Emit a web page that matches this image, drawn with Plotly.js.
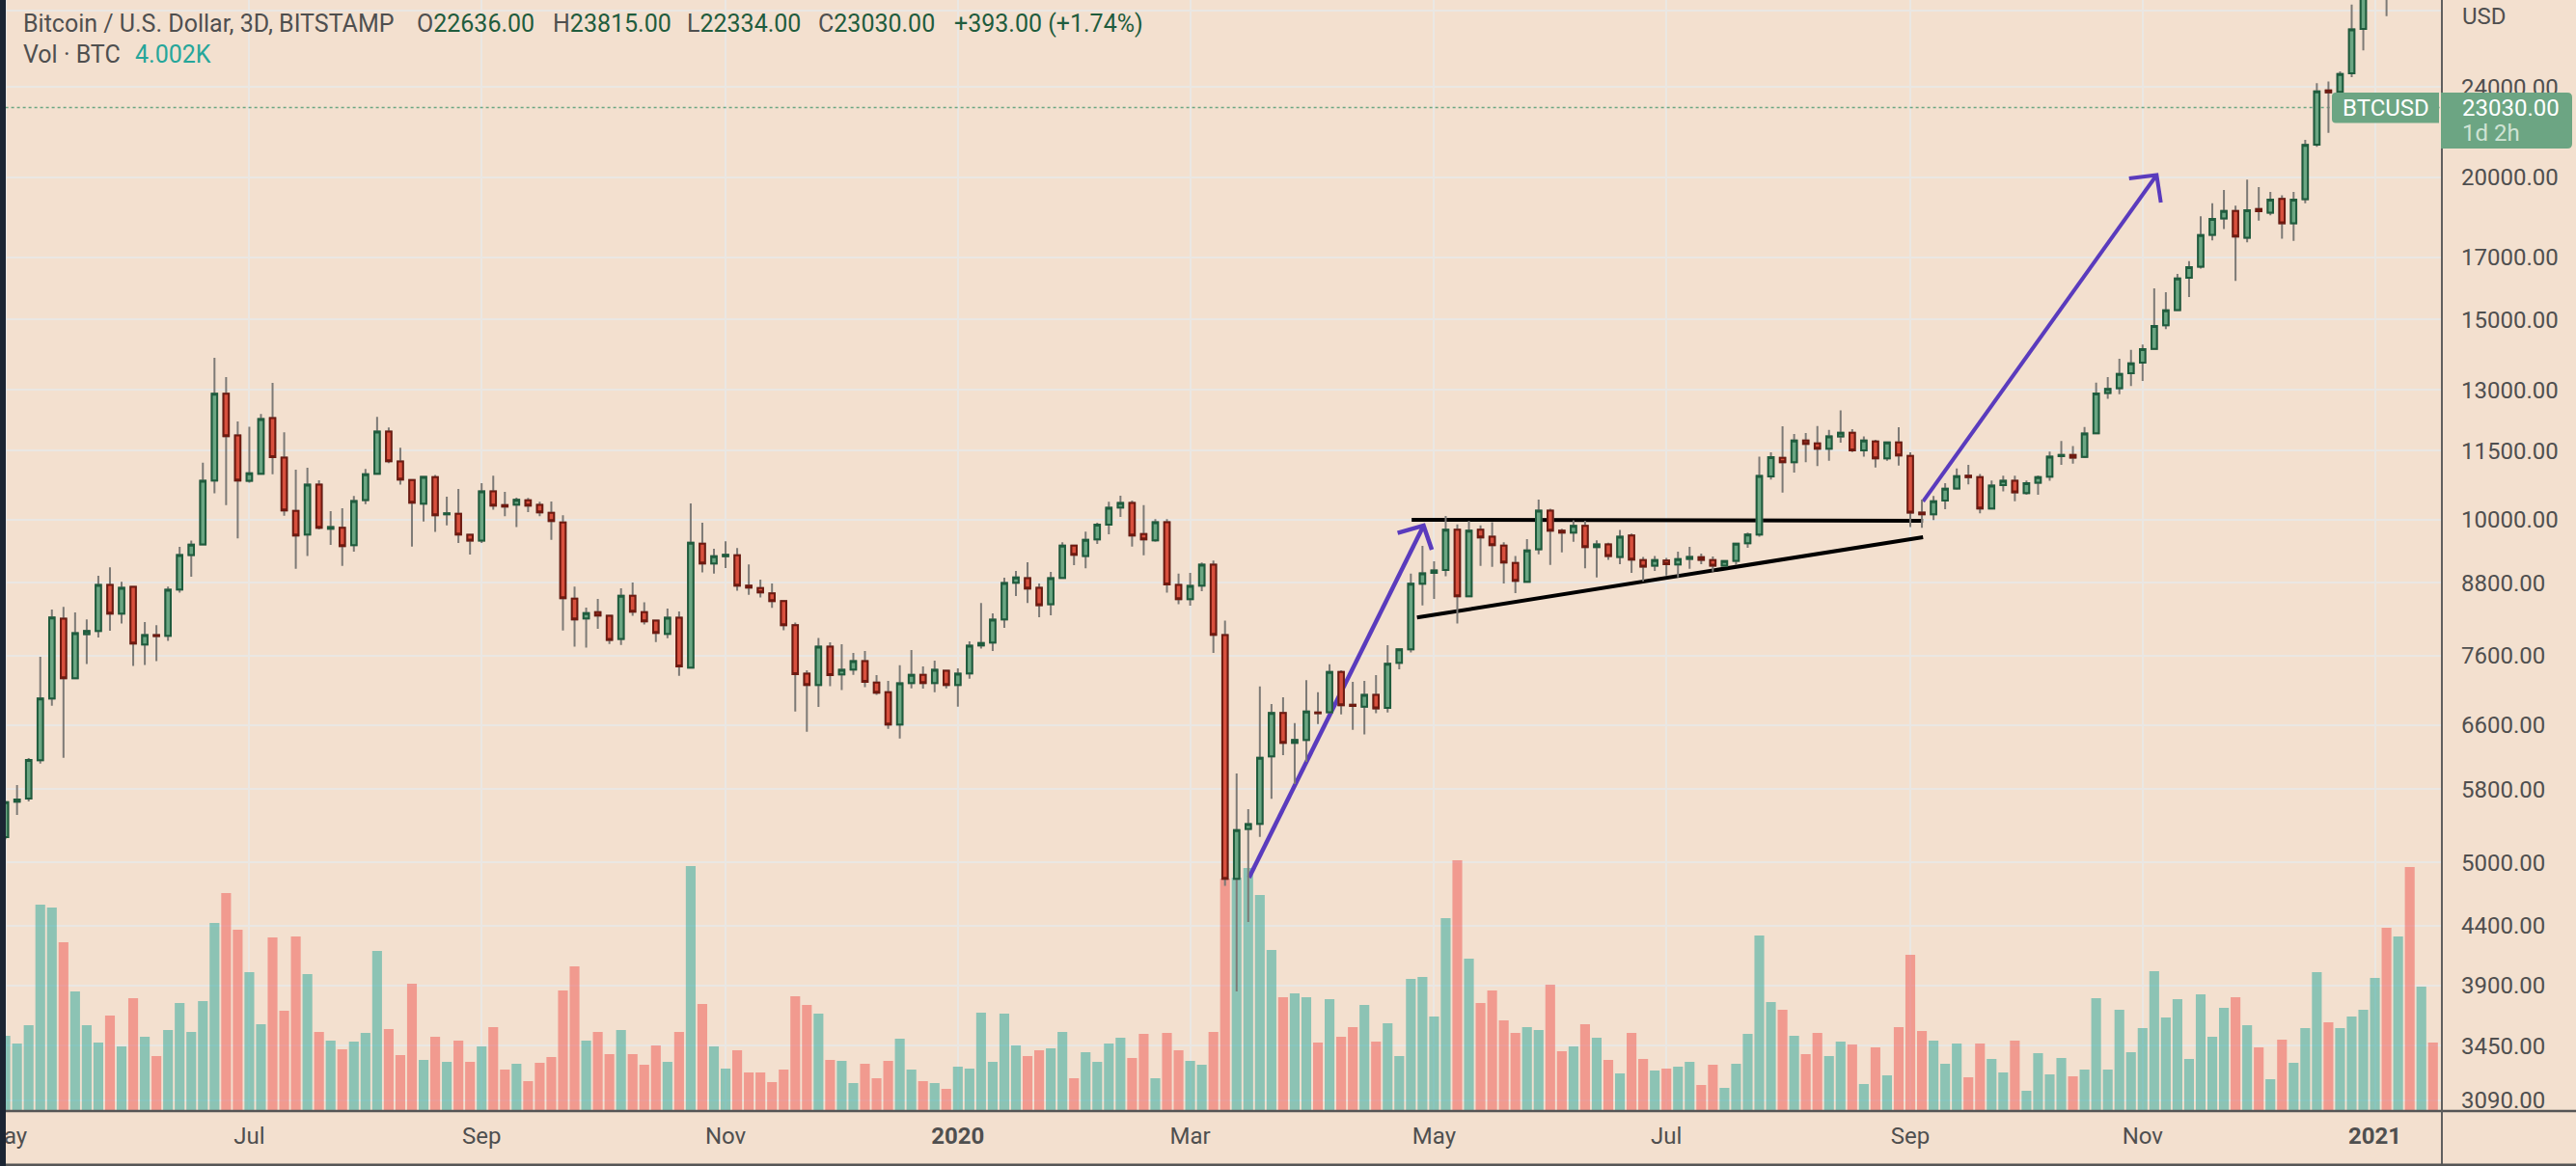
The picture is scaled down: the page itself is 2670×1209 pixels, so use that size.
<!DOCTYPE html>
<html><head><meta charset="utf-8">
<script src="https://cdn.plot.ly/plotly-3.0.1.min.js"></script>
<style>html,body{margin:0;padding:0;background:#f3e0cf;overflow:hidden}#chart{width:2670px;height:1209px}</style>
</head><body><div id="chart"></div>
<script>
const opens=[5263,5655,5690,6148,6967,8186,7257,7935,7985,8764,8271,8730,7770,7919,7909,8685,9310,9516,10826,12906,
11858,10819,10974,12282,11338,10183,9707,10736,9820,9840,9499,10405,10974,11951,11250,10840,10331,10900,10111,10124,
9700,9590,10590,10300,10310,10404,10306,10144,9948,8527,8191,8297,8234,7860,8577,8297,8154,7940,8202,7416,
9529,9153,9290,9309,8752,8712,8616,8484,8080,7324,7160,7735,7314,7386,7512,7196,7057,6608,7187,7309,
7187,7367,7160,7329,7755,7800,8175,8803,8884,8714,8431,8890,9493,9296,9612,9900,10251,10345,9718,9592,
9950,8764,8517,8752,9130,7919,4836,5352,5406,6196,6764,6367,6405,6771,6776,7352,6880,6853,7016,6835,
7488,7695,8787,8984,9033,9800,8567,9800,9662,9493,9165,8820,9424,10188,9782,9744,9876,9462,9512,9277,
9687,9216,9116,9210,9135,9240,9271,9216,9116,9206,9536,9706,10915,11336,11235,11740,11673,11545,11835,11927,
11510,11717,11325,11695,11378,10147,10112,10398,10656,10933,10902,10232,10729,10820,10556,10782,10910,11371,11402,11355,
11913,12926,13051,13449,13741,14132,14824,15285,16320,16686,17800,18394,18680,17690,18748,18615,19140,18218,19127,21360,
23840,23772,24680,26998,29400,32900,31000,36800,35500,38000];
const highs=[5660,5847,6175,7581,8341,8384,8292,8175,8930,9083,8821,8730,8133,8079,8736,9468,9590,11225,13880,13350,
12204,12070,12388,13191,11935,11069,11111,10832,10177,10237,10493,11083,12314,12054,11568,10840,10928,10950,10479,10643,
9700,10770,10935,10583,10458,10451,10371,10378,10091,8736,8372,8521,8234,8707,8810,8462,8154,8356,8308,10336,
9943,9431,9574,9443,9135,8861,8792,8484,8122,7376,7872,7805,7775,7640,7670,7304,7219,7451,7683,7434,
7522,7367,7405,7820,8452,8276,8895,9016,9177,8792,9000,9555,9506,9763,9943,10370,10500,10398,10300,10015,
10015,8968,8984,9171,9210,8154,5985,5570,7138,6889,6983,6629,7228,7057,7466,7376,7205,7219,7304,7760,
7695,8968,9487,9196,10078,9905,9980,9886,9950,9555,9296,9618,10418,10228,9820,9992,9980,9592,9548,9795,
9725,9277,9296,9258,9375,9468,9340,9284,9210,9530,9744,11360,11464,12084,11897,11920,12091,11994,12480,12013,
11835,11757,11700,12060,11465,10420,10493,10768,11095,11173,10972,10827,10933,10933,10827,10940,11482,11730,11608,12064,
13200,13345,13848,14100,14257,15970,15850,16445,16875,18475,18970,19490,18876,19905,19600,19410,19275,19410,21565,24190,
24275,24770,28350,29900,33300,34800,37500,41950,41300,38500];
const lows=[5240,5504,5657,6108,6866,6180,7257,7468,7883,7990,8106,7440,7454,7512,7826,8628,8912,9516,10549,10300,
9630,10777,10974,10967,10085,9059,9292,9808,9505,9112,9377,10324,10974,11213,10736,9474,9966,9757,9890,9541,
9322,9541,10205,10071,9852,10157,10071,9603,7995,7735,7720,8022,7780,7765,8234,8090,7810,7870,7294,7401,
8989,8970,9072,8663,8594,8545,8367,7996,6785,6514,6849,7141,7085,7309,7127,7016,6552,6426,7112,7108,
7057,7112,6853,7251,7705,7670,8037,8571,8452,8212,8245,8890,9123,9066,9523,9712,10059,9474,9309,9567,
8628,8431,8404,8657,7639,4770,3852,4432,5265,5688,6212,5860,6128,6616,6776,6747,6540,6477,6762,6771,
7390,7645,8411,8521,8920,8106,8550,9110,9092,8792,8622,8820,9328,9128,9362,9567,9066,8900,9220,9141,
8984,8832,9016,8936,8900,9055,9141,9005,9098,9122,9449,9662,10846,10568,11003,11235,11147,11270,11690,11470,
11360,11118,11270,11158,9855,9841,9994,10218,10626,10745,10132,10218,10594,10384,10520,10520,10820,11173,11205,11331,
11913,12772,12893,13110,13240,14122,14710,15285,15692,16620,17595,18005,16216,17530,18320,18510,17655,17582,18970,21270,
21880,23710,24490,25840,28900,27700,30400,30000,30100,33000];
const closes=[5649,5680,6152,6967,8207,7257,7950,7985,8764,8271,8713,7785,7919,7904,8679,9310,9510,10819,12906,11843,
10826,10988,12258,11354,10190,9688,10736,9840,9852,9480,10385,10967,11951,11258,10846,10351,10907,10091,10131,9707,
9590,10590,10292,10273,10411,10292,10150,9974,8533,8175,8281,8239,7845,8577,8303,8143,7955,8202,7434,9548,
9153,9290,9315,8752,8718,8633,8484,8080,7319,7160,7735,7304,7381,7512,7205,7048,6608,7183,7309,7187,
7381,7160,7324,7750,7795,8170,8798,8901,8703,8415,8884,9493,9315,9605,9900,10244,10345,9687,9612,9950,
8775,8517,8747,9130,7924,4836,5338,5402,6180,6764,6367,6405,6785,6762,7352,6871,6862,7016,6830,7473,
7695,8787,8973,9027,9800,8567,9782,9650,9499,9171,8838,9399,10188,9782,9744,9876,9462,9512,9296,9662,
9228,9098,9216,9141,9234,9277,9222,9116,9200,9530,9706,10926,11352,11235,11740,11660,11545,11835,11927,11510,
11740,11325,11695,11390,10147,10112,10384,10648,10925,10902,10232,10714,10820,10570,10768,10902,11365,11402,11339,11905,
12910,13033,13430,13722,14122,14803,15274,16297,16675,17790,18380,18680,17740,18708,18667,19115,18218,19115,21345,23790,
23740,24640,26970,29400,32900,31000,36800,35500,38000,35000];
const volumes=[4399,3948,5020,12070,11900,9870,6994,5020,4004,5584,3779,6599,4343,3215,4738,6317,4625,6430,10998,12746,
10603,8122,5076,10152,5866,10208,8009,4625,4117,3610,4061,4568,9362,4794,3271,7445,2989,4343,2876,4117,
2876,3779,4907,2425,2764,1748,2820,3158,7050,8460,4117,4625,3328,4738,3328,2707,3835,2876,4625,14326,
6260,3779,2482,3553,2256,2256,1692,2425,6712,6204,5696,2989,2933,1636,2764,1918,2933,4230,2425,1748,
1636,1297,2594,2482,5753,2876,5696,3835,3215,3553,3666,4625,1918,3440,2876,3948,4286,3102,4512,1918,
4568,3553,2933,2707,4625,13592,13649,14213,12634,9419,6655,6881,6655,4004,6542,4343,4907,6204,4061,5132,
3215,7727,7840,5527,11280,14664,8911,6317,7050,5302,4568,4907,4738,7388,3497,3779,5076,4286,2989,2200,
4568,3046,2369,2482,2594,2876,1523,2707,1354,2764,4512,10265,6373,5922,4399,3328,4568,3215,4061,3892,
1579,3722,2087,4907,9137,4681,4117,2764,3948,1974,3948,3046,2256,4117,1184,3384,2143,3102,2030,2425,
6599,2425,5922,3440,4850,8178,5471,6542,3046,6824,4343,6035,6655,5020,3722,1861,4174,2820,4850,8122,
5189,4850,5527,5922,7783,10716,10208,14269,7276,4004];

const firstBar='2019-04-30';
const barDates=opens.map((_,i)=>new Date(Date.parse(firstBar+'T00:00:00Z')+i*3*864e5).toISOString().slice(0,10));
const tickBars=[0,21,41,62,82,102,123,143,164,184,204];
const tickLabels=['May','Jul','Sep','Nov','<b>2020</b>','Mar','May','Jul','Sep','Nov','<b>2021</b>'];
const priceTicks=[28000,24000,20000,17000,15000,13000,11500,10000,8800,7600,6600,5800,5000,4400,3900,3450,3090];
const priceLabels=['','24000.00','20000.00','17000.00','15000.00','13000.00','11500.00','10000.00','8800.00','7600.00','6600.00','5800.00','5000.00','4400.00','3900.00','3450.00','3090.00'];
const lastPrice=23030;

const arrowAX=['2020-03-16 05:00','2020-04-30 07:00'], arrowAY=[4848,9884];
const headAX=['2020-04-23 14:00','2020-04-30 07:00','2020-05-02 10:00'], headAY=[9736,9884,9413];
const arrowBX=['2020-09-06 07:00','2020-11-05 15:00'], arrowBY=[10378,20085];
const headBX=['2020-10-29 12:00','2020-11-05 15:00','2020-11-06 17:00'], headBY=[19948,20085,19000];
const resistX=['2020-04-27 05:00','2020-09-06 07:00'], resistY=[10000,9980];
const supportX=['2020-04-28 14:00','2020-09-06 07:00'], supportY=[8207,9655];

const BG='#f3e0cf',GRID='#eae7e3',TXT='#4f4f4f',PURPLE='#5a3bbd',WICK='#7d7a76';
const UPF='#6ba683',UPL='#1f5c3d',DNF='#d8503e',DNL='#6e1a10',BOX='#6ca583';
const volColors=opens.map((o,i)=>closes[i]>=o?'rgba(38,166,154,0.5)':'rgba(239,83,80,0.5)');

function line(x,y,color,width,dash,ax){return {type:'scatter',mode:'lines',x,y,yaxis:ax||'y3',hoverinfo:'skip',showlegend:false,
  line:{color,width,dash:dash||'solid',simplify:false}};}
const traces=[
 line([barDates[0],'2021-01-18'],[lastPrice,lastPrice],'#6ba683',1.5,'dot','y'),
 {type:'bar',x:barDates,y:volumes,yaxis:'y2',marker:{color:volColors,line:{width:0}},hoverinfo:'skip',showlegend:false},
 line(resistX,resistY,'#000000',4),
 line(supportX,supportY,'#000000',4),
 line(arrowAX,arrowAY,PURPLE,4.5),
 line(headAX,headAY,PURPLE,4.5),
 line(arrowBX,arrowBY,PURPLE,4),
 line(headBX,headBY,PURPLE,4),
 {type:'candlestick',x:barDates,open:opens,high:highs,low:lows,close:closes,yaxis:'y4',hoverinfo:'skip',showlegend:false,
  increasing:{line:{color:WICK,width:2},fillcolor:WICK},decreasing:{line:{color:WICK,width:2},fillcolor:WICK}},
 {type:'candlestick',x:barDates,open:opens,close:closes,
  high:opens.map((o,i)=>Math.max(o,closes[i])),low:opens.map((o,i)=>Math.min(o,closes[i])),yaxis:'y4',hoverinfo:'skip',showlegend:false,
  increasing:{line:{color:UPL,width:2},fillcolor:UPF},decreasing:{line:{color:DNL,width:2},fillcolor:DNF}}
];

const W=2531,H=1152;
const px=v=>v/W, py=v=>1-v/H;
function roundBox(x0,y0,x1,y1,rl,rr,color){
  const p=`M ${px(x0+rl)} ${py(y0)} L ${px(x1-rr)} ${py(y0)} Q ${px(x1)} ${py(y0)} ${px(x1)} ${py(y0+rr)} L ${px(x1)} ${py(y1-rr)} Q ${px(x1)} ${py(y1)} ${px(x1-rr)} ${py(y1)} L ${px(x0+rl)} ${py(y1)} Q ${px(x0)} ${py(y1)} ${px(x0)} ${py(y1-rl)} L ${px(x0)} ${py(y0+rl)} Q ${px(x0)} ${py(y0)} ${px(x0+rl)} ${py(y0)} Z`;
  return {type:'path',xref:'paper',yref:'paper',path:p,fillcolor:color,line:{width:0},layer:'above'};
}
function seg(x0,y0,x1,y1,color,w){return {type:'line',xref:'paper',yref:'paper',x0:px(x0),x1:px(x1),y0:py(y0),y1:py(y1),line:{color,width:w},layer:'above'};}
const shapes=[
 seg(6,1152,2670,1152,'#555555',2.5),
 seg(2531,0,2531,1209,'#5f5f5f',2),
 seg(6,1208,2670,1208,'#555555',3),
 {type:'rect',xref:'paper',yref:'paper',x0:px(-2),x1:px(6),y0:py(-2),y1:py(1211),fillcolor:'#1b2533',line:{width:0},layer:'above'},
 roundBox(2417,96,2528,127.5,4,0,BOX),
 roundBox(2530,96,2666,154,0,5,BOX)
];
function note(x,y,text,o){return Object.assign({xref:'paper',yref:'paper',x:px(x),y:py(y),text,showarrow:false,xanchor:'left',yanchor:'middle',borderpad:0,
  font:{family:'Roboto',size:24,color:TXT}},o||{});}
const hdr=c=>({font:{family:'Roboto',size:25,color:c||TXT}});
const G=s=>`<span style="color:${UPL}">${s}</span>`;
const annotations=[
 note(2551,17,'USD'),
 note(2427,112,'BTCUSD',{font:{family:'Roboto',size:24,color:'#ffffff'}}),
 note(2551,112,'23030.00',{font:{family:'Roboto',size:24,color:'#ffffff'}}),
 note(2551,138,'1d 2h',{font:{family:'Roboto',size:24,color:'#cfe3d4'}}),
 note(23,24,'Bitcoin / U.S. Dollar, 3D, BITSTAMP',hdr()),
 note(431,24,'O'+G('22636.00'),hdr()),
 note(572,24,'H'+G('23815.00'),hdr()),
 note(711,24,'L'+G('22334.00'),hdr()),
 note(847,24,'C'+G('23030.00'),hdr()),
 note(988,24,G('+393.00 (+1.74%)'),hdr()),
 note(23,57,'Vol · BTC',hdr()),
 note(139,57,'4.002K',hdr('#26a69a'))
];
const priceRange=[Math.log10(3024),Math.log10(28620)];
const hiddenLog={type:'log',range:priceRange,overlaying:'y',side:'right',anchor:'x',visible:false,showgrid:false,zeroline:false};
const layout={
 width:2670,height:1209,margin:{l:0,r:139,t:0,b:57,pad:0},
 paper_bgcolor:BG,plot_bgcolor:BG,showlegend:false,bargap:0.16,boxgap:0.34,hovermode:false,
 font:{family:'Roboto',size:24,color:TXT},
 xaxis:{type:'date',range:['2019-04-28 14:24','2021-01-18 07:12'],tickmode:'array',tickvals:tickBars.map(i=>barDates[i]),ticktext:tickLabels,
   tickangle:0,ticks:'',showgrid:true,gridcolor:GRID,gridwidth:2,zeroline:false,showline:false,rangeslider:{visible:false},ticklabeloverflow:'allow',
   tickfont:{family:'Roboto',size:24,color:TXT},anchor:'y',automargin:false,ticklabelstandoff:9},
 yaxis:{type:'log',range:priceRange,side:'right',anchor:'x',tickmode:'array',tickvals:priceTicks,ticktext:priceLabels,
   showgrid:true,gridcolor:GRID,gridwidth:2,zeroline:false,showline:false,ticks:'',ticklabelstandoff:19,automargin:false,
   tickfont:{family:'Roboto',size:24,color:TXT}},
 yaxis2:{type:'linear',range:[0,64973],overlaying:'y',anchor:'x',visible:false,showgrid:false,zeroline:false},
 yaxis3:hiddenLog,
 yaxis4:Object.assign({},hiddenLog),
 shapes,annotations
};
Plotly.newPlot('chart',traces,layout,{displayModeBar:false,staticPlot:true});
</script></body></html>
